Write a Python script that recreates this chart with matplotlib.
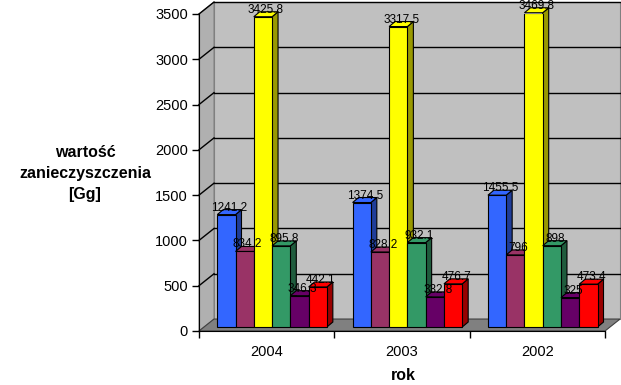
import numpy as np
import matplotlib.pyplot as plt
from matplotlib.patches import Polygon

plt.rcParams['font.family'] = ['Liberation Sans', 'DejaVu Sans']

# data
years = ['2004', '2003', '2002']
s1 = [1241.2, 1374.5, 1455.5]   # blue
s2 = [834.2, 828.2, 796]        # maroon
s3 = [3425.8, 3317.5, 3469.8]   # yellow
s4 = [895.8, 932.1, 898]        # green
s5 = [346.3, 332.8, 325]        # purple
s6 = [442.1, 476.7, 473.4]      # red
labels_txt = [
    ['1241.2', '1374.5', '1455.5'],
    ['834.2', '828.2', '796'],
    ['3425.8', '3317.5', '3469.8'],
    ['895.8', '932.1', '898'],
    ['346.3', '332.8', '325'],
    ['442.1', '476.7', '473.4'],
]
series = [s1, s2, s3, s4, s5, s6]
front_cols = ['#3366ff', '#993366', '#ffff00', '#339966', '#660066', '#ff0000']
side_cols = ['#1f3d99', '#5c1f3d', '#999900', '#1f5c3d', '#3d003d', '#990000']

fig = plt.figure(figsize=(6.21, 3.85), dpi=100)
ax = fig.add_axes([199/621, 1 - 331/385, 406/621, 317/385])
ax.set_xlim(0, 3)
ax.set_ylim(0, 3500)

# wall depth in data units
dx, dy = 0.111, 132
ticks = np.arange(0, 3501, 500)

# back wall, side wall, floor
ax.add_patch(Polygon([(dx, dy), (3 + dx, dy), (3 + dx, 3500 + dy), (dx, 3500 + dy)],
                     closed=True, fc='#c0c0c0', ec='#808080', lw=0.8, clip_on=False, zorder=0))
ax.add_patch(Polygon([(0, 0), (dx, dy), (dx, 3500 + dy), (0, 3500)],
                     closed=True, fc='#b0b0b0', ec='#808080', lw=0.8, clip_on=False, zorder=0))
ax.add_patch(Polygon([(0, 0), (3, 0), (3 + dx, dy), (dx, dy)],
                     closed=True, fc='#808080', ec='#404040', lw=0.8, clip_on=False, zorder=0.5))
for v in ticks[1:]:
    ax.plot([dx, 3 + dx], [v + dy, v + dy], color='black', lw=1, clip_on=False, zorder=0.4)
    ax.plot([0, dx], [v, v + dy], color='black', lw=1, clip_on=False, zorder=0.4)

# bars with 3d faces
w = 0.135
bdx, bdy = 0.044, 55
base = 44
x = np.arange(3) + 0.5 + 0.04
for i, (vals, fc, sc) in enumerate(zip(series, front_cols, side_cols)):
    x0s = x - 3 * w + i * w
    for j, (x0, v) in enumerate(zip(x0s, vals)):
        top = base + v
        ax.add_patch(Polygon([(x0 + w, base), (x0 + w + bdx, base + bdy),
                              (x0 + w + bdx, top + bdy), (x0 + w, top)],
                             closed=True, fc=sc, ec='black', lw=0.8, zorder=2 + i * 0.1, clip_on=False))
        ax.add_patch(Polygon([(x0, top), (x0 + w, top), (x0 + w + bdx, top + bdy), (x0 + bdx, top + bdy)],
                             closed=True, fc=fc, ec='black', lw=0.8, zorder=2 + i * 0.1, clip_on=False))
        ax.bar(x0, v, width=w, bottom=base, align='edge', color=fc, edgecolor='black',
               lw=0.8, zorder=2.05 + i * 0.1)
        ax.text(x0 + w / 2 + bdx / 2, top + bdy * 0.2, labels_txt[i][j], ha='center', va='bottom',
                fontsize=8.5, zorder=5, clip_on=False)

ax.set_yticks(ticks)
ax.set_xticks([0, 1, 2, 3])
ax.set_xticklabels([])
ax.set_xticks([0.5, 1.5, 2.5], minor=True)
ax.set_xticklabels(years, minor=True)
ax.tick_params(axis='x', which='minor', length=0, pad=10, labelsize=10.5)
ax.tick_params(axis='x', which='major', length=5, width=1)
ax.tick_params(axis='y', length=5, width=1, labelsize=10.5, pad=3)

for sp in ['top', 'right']:
    ax.spines[sp].set_visible(False)
ax.spines['left'].set_zorder(6)
ax.spines['bottom'].set_zorder(6)
ax.set_facecolor('none')

fig.text(85/621, 1 - 173/385, 'wartość\nzanieczyszczenia\n[Gg]', ha='center', va='center',
         fontsize=11.5, fontweight='bold', linespacing=1.5)
fig.text(403/621, 1 - 376/385, 'rok', ha='center', va='center', fontsize=11.5, fontweight='bold')

fig.savefig('out.png', dpi=100)
